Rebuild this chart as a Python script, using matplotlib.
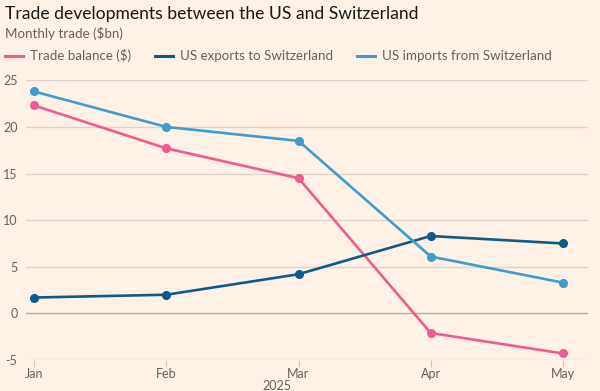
import matplotlib.pyplot as plt
from matplotlib.lines import Line2D

months = ['Jan', 'Feb', 'Mar', 'Apr', 'May']
trade_balance = [22.3, 17.7, 14.5, -2.1, -4.3]
us_exports = [1.7, 2.0, 4.2, 8.3, 7.5]
us_imports = [23.8, 20.0, 18.5, 6.1, 3.3]
yticks = [-5, 0, 5, 10, 15, 20, 25]

bg = '#FFF1E5'
pink = '#EE5C91'
dark_blue = '#0C5B8A'
light_blue = '#3D9DCC'
grey = '#66605C'

plt.rcParams['font.family'] = ['Lato', 'DejaVu Sans']

fig = plt.figure(figsize=(6, 3.91), dpi=100, facecolor=bg)
ax = fig.add_axes([0.043, 0.0793, 0.937, 0.7153], facecolor=bg)

x = list(range(len(months)))
series = [(trade_balance, pink, 'Trade balance ($)'),
          (us_exports, dark_blue, 'US exports to Switzerland'),
          (us_imports, light_blue, 'US imports from Switzerland')]
for vals, col, lab in series:
    ax.plot(x, vals, color=col, lw=1.9, marker='o', ms=5.5, clip_on=False, zorder=3)

ax.set_xlim(-0.063, 4.19)
ax.set_ylim(-5, 25)
for v in yticks:
    c = '#B3AAA2' if v == 0 else '#DCD3CB'
    ax.axhline(v, color=c, lw=1, zorder=1)
for s in ax.spines.values():
    s.set_visible(False)
ax.set_yticks(yticks)
ax.set_yticklabels([str(v) for v in yticks])
ax.tick_params(axis='y', length=0, pad=6, labelsize=9, labelcolor=grey)
ax.set_xticks(x)
ax.set_xticklabels(months)
ax.tick_params(axis='x', length=5, color='#CFC6BE', labelsize=9, labelcolor=grey, pad=1)
for t in ax.get_yticklabels():
    t.set_horizontalalignment('right')

# year label sits under Mar, shifted left
fig.text(277 / 600, 1.5 / 391, '2025', ha='center', va='baseline', fontsize=9, color=grey)

fig.text(0.008, 1 - 14 / 391, 'Trade developments between the US and Switzerland',
         fontsize=12.6, color='#1A1817', va='center')
fig.text(0.008, 1 - 33 / 391, 'Monthly trade ($bn)', fontsize=9.6, color=grey, va='center')

leg_y = 1 - 56 / 391
for (vals, col, lab), x0 in zip(series, [5, 155, 357]):
    fig.add_artist(Line2D([x0 / 600, (x0 + 18) / 600], [leg_y, leg_y], color=col, lw=2.2))
    fig.text((x0 + 25) / 600, leg_y, lab, fontsize=9.6, color=grey, va='center')

fig.savefig('out.png', dpi=100, facecolor=bg)
